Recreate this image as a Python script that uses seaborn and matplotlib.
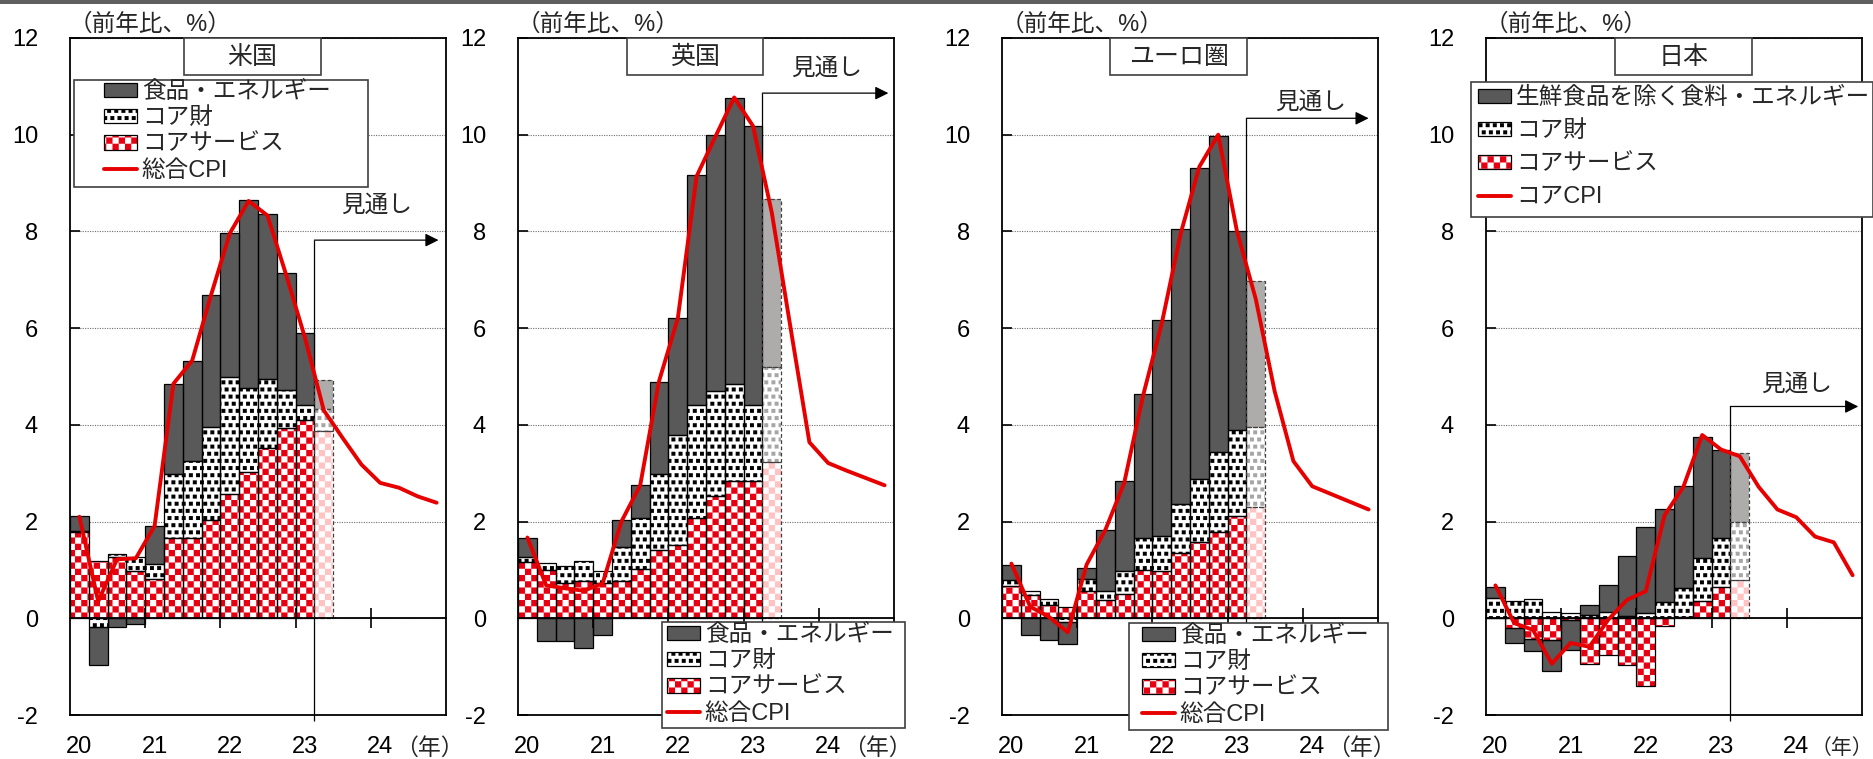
import numpy as np
import matplotlib
matplotlib.use("Agg")
import matplotlib.pyplot as plt
import matplotlib.hatch as mhatch
import matplotlib.transforms as mtransforms
from matplotlib.path import Path
from matplotlib.patches import Rectangle
from matplotlib.lines import Line2D
import seaborn as sns

# ---------------------------------------------------------------- data
years = ["20", "21", "22", "23", "24"]
panel_titles = ["米国", "英国", "ユーロ圏", "日本"]
unit_label = "（前年比、%）"
year_unit = "（年）"
outlook_label = "見通し"
legend_labels_main = ["食品・エネルギー", "コア財", "コアサービス", "総合CPI"]
legend_labels_jp = ["生鮮食品を除く食料・エネルギー", "コア財", "コアサービス", "コアCPI"]

# quarterly bars 2020Q1 .. 2023Q2 (last one = outlook)
us_services = [1.78, 1.19, 1.27, 0.97, 0.81, 1.65, 1.67, 2.03, 2.58, 3.02, 3.53, 3.94, 4.11, 3.88]
us_goods = [0.02, -0.19, 0.05, 0.29, 0.32, 1.33, 1.58, 1.93, 2.40, 1.74, 1.42, 0.79, 0.31, 0.44]
us_food_energy = [0.32, -0.77, -0.18, -0.12, 0.77, 1.87, 2.08, 2.73, 2.98, 3.90, 3.42, 2.40, 1.48, 0.61]
us_cpi = [2.10, 0.35, 1.22, 1.24, 1.91, 4.85, 5.33, 6.68, 7.96, 8.63, 8.33, 7.10, 5.80, 4.30,
          3.73, 3.18, 2.80, 2.70, 2.52, 2.39]

uk_services = [1.17, 1.00, 0.72, 0.77, 0.72, 0.77, 1.02, 1.41, 1.52, 2.08, 2.53, 2.83, 2.84, 3.23]
uk_goods = [0.09, 0.14, 0.36, 0.42, 0.26, 0.71, 1.05, 1.57, 2.28, 2.34, 2.18, 2.01, 1.58, 1.96]
uk_food_energy = [0.41, -0.47, -0.47, -0.61, -0.35, 0.56, 0.68, 1.90, 2.40, 4.74, 5.29, 5.91, 5.76, 3.48]
uk_cpi = [1.67, 0.68, 0.62, 0.57, 0.72, 2.00, 2.75, 4.90, 6.20, 9.14, 9.96, 10.77, 10.18, 8.39,
          6.00, 3.64, 3.21, 3.05, 2.90, 2.75]

ea_services = [0.66, 0.48, 0.28, 0.24, 0.57, 0.38, 0.50, 0.99, 0.97, 1.34, 1.58, 1.78, 2.11, 2.30]
ea_goods = [0.14, 0.09, 0.12, -0.07, 0.25, 0.19, 0.47, 0.66, 0.73, 1.03, 1.31, 1.66, 1.79, 1.66]
ea_food_energy = [0.31, -0.35, -0.45, -0.46, 0.23, 1.26, 1.86, 2.99, 4.46, 5.69, 6.43, 6.54, 4.11, 3.01]
ea_cpi = [1.13, 0.24, 0.03, -0.29, 1.11, 1.83, 2.80, 4.60, 6.10, 7.95, 9.34, 10.00, 8.00, 6.60,
          4.70, 3.25, 2.73, 2.57, 2.41, 2.25]

jp_services = [0.00, -0.21, -0.42, -0.45, -0.03, -0.94, -0.75, -0.96, -1.41, -0.16, 0.02, 0.36, 0.65, 0.80]
jp_goods = [0.42, 0.36, 0.40, 0.13, 0.11, 0.07, 0.14, 0.05, 0.10, 0.33, 0.61, 0.88, 1.02, 1.20]
jp_food_energy = [0.23, -0.31, -0.26, -0.64, -0.63, 0.20, 0.54, 1.23, 1.78, 1.92, 2.11, 2.51, 1.82, 1.41]
jp_cpi = [0.68, -0.10, -0.24, -0.94, -0.51, -0.59, -0.03, 0.38, 0.56, 2.13, 2.72, 3.79, 3.49, 3.35,
          2.72, 2.25, 2.09, 1.69, 1.57, 0.89]

n_actual = 13          # bars 2020Q1..2023Q1 are actual, 2023Q2 is outlook
outlook_arrow_y = [7.82, 10.86, 10.34, 4.38]
outlook_arrow_end = [19.6, 19.7, 19.5, 19.8]
outlook_text_xy = [(16.3, 8.54), (16.4, 11.36), (16.4, 10.67), (16.5, 4.82)]
year_unit_x = [17.3, 17.3, 17.3, 17.25]
year_unit_size = [16.5, 16.5, 16.5, 15]

# ---------------------------------------------------------------- custom hatches
class _SquareHatch(mhatch.HatchPatternBase):
    key = ""

    def __init__(self, hatch, density):
        self.sq = self.squares() if (hatch and self.key in hatch) else []
        self.num_vertices = 5 * len(self.sq)

    def set_vertices_and_codes(self, vertices, codes):
        for k, (x0, y0, s) in enumerate(self.sq):
            vertices[5 * k:5 * k + 5] = [(x0, y0), (x0 + s, y0), (x0 + s, y0 + s),
                                         (x0, y0 + s), (x0, y0)]
            codes[5 * k] = Path.MOVETO
            codes[5 * k + 1:5 * k + 4] = Path.LINETO
            codes[5 * k + 4] = Path.CLOSEPOLY


class CheckerHatch(_SquareHatch):
    key = "x"
    N = 16

    def squares(self):
        c = 1.0 / self.N
        return [(i * c, j * c, c) for i in range(self.N) for j in range(self.N)
                if (i + j) % 2 == 0]


class ConfettiHatch(_SquareHatch):
    key = "o"
    N = 14

    def squares(self):
        c = 1.0 / self.N
        s = 0.55 * c
        out = []
        for j in range(self.N):
            off = 0.45 * c if j % 2 else 0.0
            for i in range(self.N):
                x0 = (i * c + off) % 1.0
                if x0 + s > 1.0:
                    x0 = 1.0 - s
                out.append((x0, j * c + 0.2 * c, s))
        return out


mhatch._hatch_types = [CheckerHatch, ConfettiHatch]

# ---------------------------------------------------------------- style
sns.set_theme(style="white")
plt.rcParams["font.family"] = ["Liberation Sans", "Noto Sans CJK JP", "DejaVu Sans"]
plt.rcParams["axes.unicode_minus"] = False
plt.rcParams["hatch.linewidth"] = 0.05

RED = "#e60012"
LINE_RED = "#e60000"
DARK = "#595959"
FC_GRAY = "#aeabab"
PINK = "#ffc3c3"
DOT_GRAY = "#a6a6a6"

actual_styles = [
    dict(face="white", hatch="x", hcolor=RED, edge="black", ls="-"),
    dict(face="white", hatch="o", hcolor="black", edge="black", ls="-"),
    dict(face=DARK, hatch=None, hcolor=DARK, edge="black", ls="-"),
]
outlook_styles = [
    dict(face="white", hatch="x", hcolor=PINK, edge="#404040", ls=(0, (3, 2))),
    dict(face="white", hatch="o", hcolor=DOT_GRAY, edge="#404040", ls=(0, (3, 2))),
    dict(face=FC_GRAY, hatch=None, hcolor=FC_GRAY, edge="#404040", ls=(0, (3, 2))),
]

W, H = 1874, 759
fig = plt.figure(figsize=(W / 100, H / 100), dpi=100)
fig.patch.set_facecolor("white")
fig.add_artist(Rectangle((0, 1 - 4 / H), 1, 4 / H, transform=fig.transFigure,
                         facecolor="#5f5f5f", edgecolor="none", zorder=10))

AX_LEFTS = [70, 518, 1002, 1486]
AX_W, AX_TOP, AX_BOT = 376, 38, 715
YMIN, YMAX = -2, 12
title_boxes = [(0.303, 0.364), (0.290, 0.362), (0.287, 0.365), (0.343, 0.364)]
legend_frames = [(74, 80, 368, 187), (662, 622, 905, 728), (1129, 623, 1388, 730), (1471, 82, 1873, 217)]
legend_anchor = [(104, 81), (667, 624), (1142, 625), (1478, 87)]
legend_spacing = [0.18, 0.18, 0.18, 0.47]

panels = [
    (us_services, us_goods, us_food_energy, us_cpi, legend_labels_main),
    (uk_services, uk_goods, uk_food_energy, uk_cpi, legend_labels_main),
    (ea_services, ea_goods, ea_food_energy, ea_cpi, legend_labels_main),
    (jp_services, jp_goods, jp_food_energy, jp_cpi, legend_labels_jp),
]


def draw_layer(ax, x, vals, bottom, st):
    ax.bar(x, vals, width=1.0, bottom=bottom, color=st["face"], hatch=st["hatch"],
           edgecolor=st["hcolor"], linewidth=0, zorder=2)
    ax.bar(x, vals, width=1.0, bottom=bottom, fill=False, edgecolor=st["edge"],
           linewidth=0.9, linestyle=st["ls"], zorder=2.2)


for k, (svc, goods, fe, cpi, labels) in enumerate(panels):
    ax = fig.add_axes([AX_LEFTS[k] / W, 1 - AX_BOT / H, AX_W / W, (AX_BOT - AX_TOP) / H])
    ax.set_xlim(0, 20)
    ax.set_ylim(YMIN, YMAX)

    comps = [np.asarray(svc, float), np.asarray(goods, float), np.asarray(fe, float)]
    nb = len(comps[0])
    xb = np.arange(nb) + 0.5
    pos = np.zeros(nb)
    neg = np.zeros(nb)
    for ci, vals in enumerate(comps):
        bottom = np.where(vals >= 0, pos, neg)
        draw_layer(ax, xb[:n_actual], vals[:n_actual], bottom[:n_actual], actual_styles[ci])
        draw_layer(ax, xb[n_actual:], vals[n_actual:], bottom[n_actual:], outlook_styles[ci])
        pos = pos + np.where(vals >= 0, vals, 0)
        neg = neg + np.where(vals < 0, vals, 0)

    xl = np.arange(len(cpi)) + 0.5
    sns.lineplot(x=xl, y=np.asarray(cpi, float), ax=ax, color=LINE_RED, linewidth=2.8,
                 zorder=5, legend=False)
    ax.set_xlabel("")
    ax.set_ylabel("")

    # frame & ticks
    for sp in ax.spines.values():
        sp.set_visible(True)
        sp.set_color("black")
        sp.set_linewidth(1.3)
    yt = list(range(YMIN, YMAX + 1, 2))
    ax.set_yticks(yt, labels=[str(t) for t in yt])
    ax.tick_params(axis="y", left=True, right=False, direction="in", length=7, width=1.2,
                   pad=23, labelsize=17, colors="black")
    ax.set_xticks([4 * i + 0.5 for i in range(len(years))], labels=years)
    ax.tick_params(axis="x", bottom=True, length=0, pad=15, labelsize=17, colors="black")
    ax.yaxis.grid(True, linestyle=(0, (1, 1.2)), color="#6f6f6f", linewidth=0.8)
    ax.xaxis.grid(False)
    ax.set_axisbelow(True)

    # zero line with year-boundary ticks
    sec = ax.secondary_xaxis((0 - YMIN) / (YMAX - YMIN))
    sec.set_xticks([4, 8, 12, 16])
    sec.tick_params(axis="x", bottom=True, top=False, direction="inout", length=14, width=1.2,
                    labelbottom=False, labeltop=False, colors="black")
    for sp in sec.spines.values():
        sp.set_color("black")
        sp.set_linewidth(1.3)
    sec.set_zorder(3)

    # outlook marker
    fx = float(n_actual)
    ax.vlines(fx, YMIN - 0.12, outlook_arrow_y[k], colors="black", linewidth=0.9,
              zorder=1.5, clip_on=False)
    ax.annotate("", xy=(outlook_arrow_end[k], outlook_arrow_y[k]), xytext=(fx, outlook_arrow_y[k]),
                arrowprops=dict(arrowstyle="-|>", color="black", lw=0.9, mutation_scale=20,
                                shrinkA=0, shrinkB=0), zorder=6)
    ax.text(outlook_text_xy[k][0], outlook_text_xy[k][1], outlook_label, ha="center",
            va="center", fontsize=17, zorder=6)

    # title box
    bx, bw = title_boxes[k]
    bh = 37 / (AX_BOT - AX_TOP)
    ax.add_patch(Rectangle((bx, 1 - bh), bw, bh, transform=ax.transAxes, facecolor="white",
                           edgecolor="#404040", linewidth=1.2, zorder=7, clip_on=False))
    ax.text(bx + bw / 2, 1 - bh / 2, panel_titles[k], transform=ax.transAxes, ha="center",
            va="center", fontsize=18, zorder=8)

    # unit labels
    ax.text(-0.005, 1.004, unit_label, transform=ax.transAxes, ha="left", va="bottom",
            fontsize=17)
    trans = mtransforms.blended_transform_factory(ax.transData, ax.transAxes)
    ax.text(year_unit_x[k], -33 / (AX_BOT - AX_TOP), year_unit, transform=trans, ha="left",
            va="center", fontsize=year_unit_size[k], clip_on=False)

    # legend with its own frame
    x0, y0, x1, y1 = legend_frames[k]
    fig.add_artist(Rectangle((x0 / W, 1 - y1 / H), (x1 - x0) / W, (y1 - y0) / H,
                             transform=fig.transFigure, facecolor="white", edgecolor="#404040",
                             linewidth=1.2, zorder=4.9))
    h_fe = Rectangle((0, 0), 1, 1, facecolor=DARK, edgecolor="black", linewidth=0.9)
    h_goods = Rectangle((0, 0), 1, 1, facecolor="white", hatch="o", edgecolor="black",
                        linewidth=0.9)
    h_svc = (Rectangle((0, 0), 1, 1, facecolor="white", hatch="x", edgecolor=RED, linewidth=0),
             Rectangle((0, 0), 1, 1, fill=False, edgecolor="black", linewidth=0.9))
    h_line = Line2D([0], [1], color=LINE_RED, linewidth=2.8)
    ax_, ay_ = legend_anchor[k]
    leg = fig.legend([h_fe, h_goods, h_svc, h_line], labels, loc="upper left",
                     bbox_to_anchor=(ax_ / W, 1 - ay_ / H), bbox_transform=fig.transFigure,
                     frameon=False, borderpad=0, borderaxespad=0, fontsize=17,
                     handlelength=1.4, handleheight=0.57, handletextpad=0.2,
                     labelspacing=legend_spacing[k])
    leg.set_zorder(5)

fig.savefig("out.png", dpi=100, facecolor="white")
